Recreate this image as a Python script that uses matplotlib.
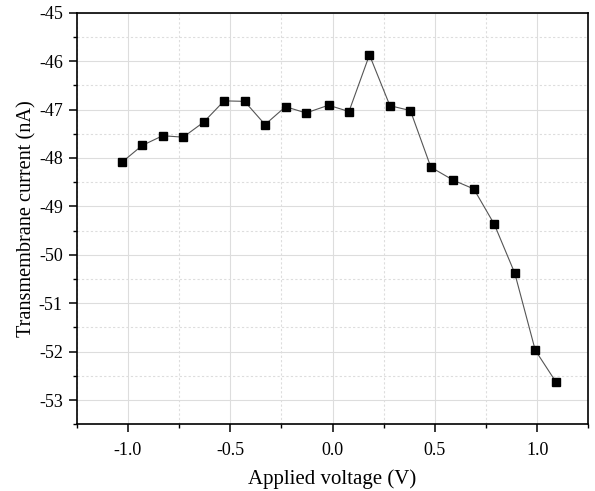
import matplotlib
matplotlib.use("Agg")
import matplotlib.pyplot as plt
from matplotlib.ticker import MultipleLocator

voltage = [-1.03, -0.93, -0.83, -0.73, -0.63, -0.53, -0.43, -0.33, -0.23, -0.13, -0.02,
           0.08, 0.18, 0.28, 0.38, 0.48, 0.59, 0.69, 0.79, 0.89, 0.99, 1.09]
current = [-48.09, -47.74, -47.54, -47.57, -47.26, -46.82, -46.83, -47.31, -46.94, -47.07, -46.91,
           -47.04, -45.87, -46.92, -47.02, -48.19, -48.46, -48.64, -49.37, -50.38, -51.97, -52.62]

plt.rcParams["font.family"] = ["Liberation Serif", "DejaVu Serif"]
plt.rcParams["axes.unicode_minus"] = False

fig = plt.figure(figsize=(5.95, 4.91), dpi=100)
ax = fig.add_axes([0.129, 0.136, 0.860, 0.838])

ax.plot(voltage, current, color="#555555", lw=0.8, marker="s", ms=5.2,
        mfc="black", mec="black", zorder=3)

ax.set_xlim(-1.25, 1.25)
ax.set_ylim(-53.5, -45)
ax.xaxis.set_major_locator(MultipleLocator(0.5))
ax.xaxis.set_minor_locator(MultipleLocator(0.25))
ax.yaxis.set_major_locator(MultipleLocator(1))
ax.yaxis.set_minor_locator(MultipleLocator(0.5))
ax.xaxis.set_major_formatter(plt.FormatStrFormatter("%.1f"))
ax.yaxis.set_major_formatter(plt.FormatStrFormatter("%d"))

ax.grid(which="major", color="#dddddd", lw=0.8, ls="-")
ax.grid(which="minor", color="#dddddd", lw=0.8, ls=(0, (2, 2)))
ax.set_axisbelow(True)

for s in ax.spines.values():
    s.set_linewidth(1.2)
ax.tick_params(which="major", direction="out", length=6, width=1.1, labelsize=13, pad=4,
               top=False, right=False)
ax.tick_params(which="minor", direction="out", length=3, width=1.0, top=False, right=False)
ax.tick_params(axis="x", which="major", pad=7)

ax.set_xlabel("Applied voltage (V)", fontsize=15, labelpad=7)
ax.set_ylabel("Transmembrane current (nA)", fontsize=14.6, labelpad=2)

plt.savefig("out.png", dpi=100)
